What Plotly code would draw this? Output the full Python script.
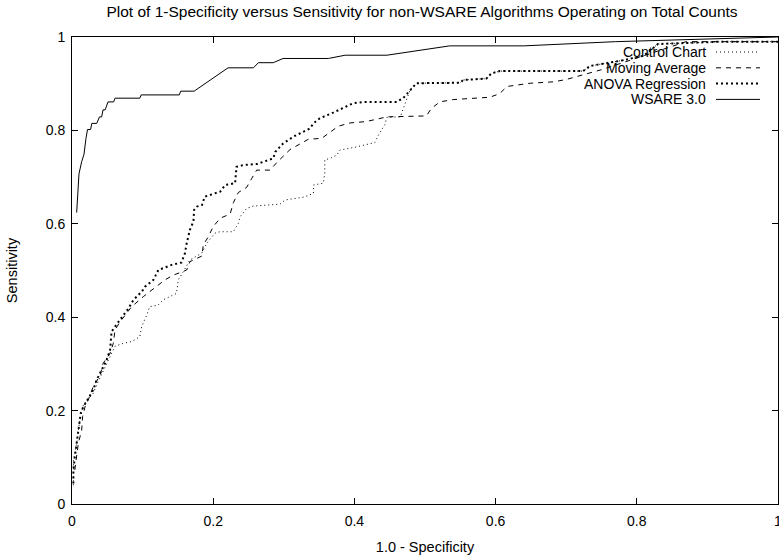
import plotly.graph_objects as go

# ---------------- data ----------------
title_text = "Plot of 1-Specificity versus Sensitivity for non-WSARE Algorithms Operating on Total Counts"
x_title = "1.0 - Specificity"
y_title = "Sensitivity"
tick_vals = [0, 0.2, 0.4, 0.6, 0.8, 1]
tick_text = ["0", "0.2", "0.4", "0.6", "0.8", "1"]
series_names = ["Control Chart", "Moving Average", "ANOVA Regression", "WSARE 3.0"]

control_x = [0.002, 0.002, 0.0066, 0.0104, 0.016, 0.03, 0.037, 0.047, 0.054, 0.061, 0.0727, 0.0845, 0.096,
             0.0987, 0.106, 0.11, 0.122, 0.129, 0.148, 0.1506, 0.1577, 0.167, 0.1837, 0.1907, 0.2025, 0.2096,
             0.2285, 0.2356, 0.238, 0.2474, 0.2568, 0.2946, 0.3017, 0.3277, 0.342, 0.342, 0.356, 0.358, 0.358,
             0.3654, 0.375, 0.3796, 0.401, 0.429, 0.434, 0.443, 0.446, 0.465, 0.479, 0.488, 0.55, 0.554, 0.587,
             0.594, 0.606, 0.724, 0.734, 0.78, 0.81, 0.83, 0.92, 1.0]
control_y = [0.04, 0.094, 0.13, 0.173, 0.212, 0.237, 0.262, 0.294, 0.319, 0.338, 0.344, 0.348, 0.358,
             0.38, 0.405, 0.4225, 0.426, 0.437, 0.451, 0.48, 0.4975, 0.5225, 0.537, 0.558, 0.58, 0.583,
             0.583, 0.601, 0.615, 0.633, 0.638, 0.642, 0.651, 0.657, 0.665, 0.683, 0.687, 0.708, 0.737,
             0.74, 0.747, 0.758, 0.764, 0.774, 0.79, 0.812, 0.828, 0.829, 0.887, 0.901, 0.902, 0.908, 0.911,
             0.922, 0.927, 0.927, 0.938, 0.95, 0.96, 0.985, 0.99, 0.99]

movavg_x = [0.004, 0.0066, 0.009, 0.0137, 0.015, 0.0184, 0.023, 0.030, 0.040, 0.044, 0.054, 0.0585, 0.061,
            0.068, 0.0845, 0.101, 0.1105, 0.1317, 0.1435, 0.1624, 0.167, 0.184, 0.186, 0.193, 0.2, 0.21,
            0.224, 0.2285, 0.2356, 0.2474, 0.2545, 0.2616, 0.2805, 0.29, 0.3088, 0.323, 0.3347, 0.3537,
            0.3654, 0.3772, 0.394, 0.417, 0.446, 0.502, 0.509, 0.521, 0.540, 0.592, 0.606, 0.616, 0.649,
            0.682, 0.70, 0.75, 0.80, 0.87, 1.0]
movavg_y = [0.073, 0.101, 0.13, 0.158, 0.187, 0.208, 0.223, 0.251, 0.276, 0.301, 0.323, 0.344, 0.373,
            0.39, 0.4225, 0.444, 0.455, 0.48, 0.49, 0.501, 0.519, 0.531, 0.555, 0.572, 0.594, 0.612,
            0.621, 0.645, 0.667, 0.678, 0.697, 0.715, 0.715, 0.731, 0.759, 0.772, 0.781, 0.783,
            0.795, 0.809, 0.816, 0.819, 0.829, 0.831, 0.847, 0.861, 0.866, 0.871, 0.879, 0.894, 0.901,
            0.904, 0.909, 0.93, 0.955, 0.99, 0.99]

anova_x = [0.002, 0.002, 0.004, 0.0066, 0.009, 0.0123, 0.016, 0.023, 0.030, 0.035, 0.042, 0.049, 0.054,
           0.056, 0.061, 0.070, 0.080, 0.087, 0.099, 0.1034, 0.1152, 0.1223, 0.1412, 0.155, 0.160, 0.1624,
           0.167, 0.172, 0.173, 0.177, 0.184, 0.188, 0.21, 0.217, 0.231, 0.233, 0.243, 0.262, 0.276, 0.285,
           0.288, 0.299, 0.314, 0.328, 0.337, 0.342, 0.351, 0.37, 0.38, 0.394, 0.398, 0.413, 0.46, 0.469,
           0.479, 0.488, 0.55, 0.554, 0.587, 0.594, 0.606, 0.724, 0.734, 0.78, 0.81, 0.83, 0.92, 1.0]
anova_y = [0.044, 0.073, 0.101, 0.133, 0.165, 0.194, 0.208, 0.226, 0.244, 0.266, 0.287, 0.308, 0.33,
           0.369, 0.38, 0.398, 0.419, 0.437, 0.455, 0.4653, 0.4797, 0.501, 0.512, 0.517, 0.537, 0.558,
           0.587, 0.605, 0.63, 0.637, 0.64, 0.658, 0.669, 0.683, 0.687, 0.722, 0.726, 0.728, 0.735, 0.74,
           0.754, 0.772, 0.787, 0.797, 0.804, 0.815, 0.826, 0.838, 0.845, 0.854, 0.858, 0.861, 0.861, 0.869,
           0.887, 0.901, 0.902, 0.908, 0.911, 0.922, 0.927, 0.927, 0.938, 0.95, 0.96, 0.985, 0.99, 0.99]

wsare_x = [0.0066, 0.0099, 0.0137, 0.017, 0.0198, 0.022, 0.0264, 0.028, 0.035, 0.039, 0.042, 0.044, 0.047,
           0.049, 0.051, 0.059, 0.061, 0.096, 0.098, 0.152, 0.154, 0.173, 0.221, 0.257, 0.264, 0.285, 0.299,
           0.363, 0.387, 0.446, 0.535, 0.64, 0.77, 1.0]
wsare_y = [0.624, 0.707, 0.733, 0.749, 0.783, 0.802, 0.802, 0.815, 0.815, 0.829, 0.829, 0.844, 0.844,
           0.854, 0.861, 0.861, 0.869, 0.869, 0.876, 0.876, 0.884, 0.884, 0.934, 0.934, 0.945, 0.945, 0.954,
           0.954, 0.961, 0.961, 0.981, 0.981, 0.99, 1.0]

# ---------------- styles ----------------
styles = [
    dict(width=1, dash="1px,3px"),
    dict(width=1, dash="5px,5px"),
    dict(width=2, dash="2px,3px"),
    dict(width=1, dash="solid"),
]
xs = [control_x, movavg_x, anova_x, wsare_x]
ys = [control_y, movavg_y, anova_y, wsare_y]

FONT = "Liberation Sans, Arial, Helvetica, sans-serif"
W, H = 779, 556
ML, MR, MT, MB = 72, 1, 37, 52
PW, PH = W - ML - MR, H - MT - MB

fig = go.Figure()
for name, x, y, st in zip(series_names, xs, ys, styles):
    fig.add_trace(go.Scatter(x=x, y=y, mode="lines", name=name,
                             line=dict(color="black", width=st["width"], dash=st["dash"]),
                             showlegend=False, hoverinfo="skip"))

# gnuplot-style key: right-aligned text followed by line sample
row_px = [52, 67.8, 83.6, 99.4]
text_right_px = 707
samp_x0_px, samp_x1_px = 716, 760
for name, st, ry in zip(series_names, styles, row_px):
    yp = (H - MB - ry) / PH
    fig.add_annotation(x=(text_right_px - ML) / PW, y=yp, xref="paper", yref="paper",
                       text=name, showarrow=False, xanchor="right", yanchor="middle",
                       borderpad=0,
                       font=dict(family=FONT, size=14, color="black"))
    fig.add_shape(type="line", xref="paper", yref="paper",
                  x0=(samp_x0_px - ML) / PW, x1=(samp_x1_px - ML) / PW, y0=yp, y1=yp,
                  line=dict(color="black", width=st["width"], dash=st["dash"]))

axis_common = dict(range=[0, 1], tickvals=tick_vals, ticktext=tick_text, ticks="inside",
                   ticklen=6, tickwidth=1, tickcolor="black", showline=True, linecolor="black",
                   linewidth=1, mirror="ticks", showgrid=False, zeroline=False, automargin=False,
                   ticklabeloverflow="allow",
                   tickfont=dict(family=FONT, size=14, color="black"))

fig.update_layout(
    width=W, height=H,
    margin=dict(l=ML, r=MR, t=MT, b=MB, autoexpand=False),
    paper_bgcolor="white", plot_bgcolor="white",
    hovermode=False,
    title=dict(text=title_text, x=(ML + PW / 2) / W - 3 / W, xanchor="center", y=1 - 12 / H,
               yanchor="middle", font=dict(family=FONT, size=15.5, color="black"), automargin=False),
    xaxis=dict(axis_common, ticklabelstandoff=4,
               title=dict(text=x_title, font=dict(family=FONT, size=14.5, color="black"), standoff=14)),
    yaxis=dict(axis_common, ticklabelstandoff=3,
               title=dict(text=y_title, font=dict(family=FONT, size=14.5, color="black"), standoff=24)),
)

fig.write_html("out.html",
               config={"displayModeBar": False, "staticPlot": True},
               post_script="document.body.style.margin='0';document.body.style.padding='0';"
                           "document.documentElement.style.overflow='hidden';")
